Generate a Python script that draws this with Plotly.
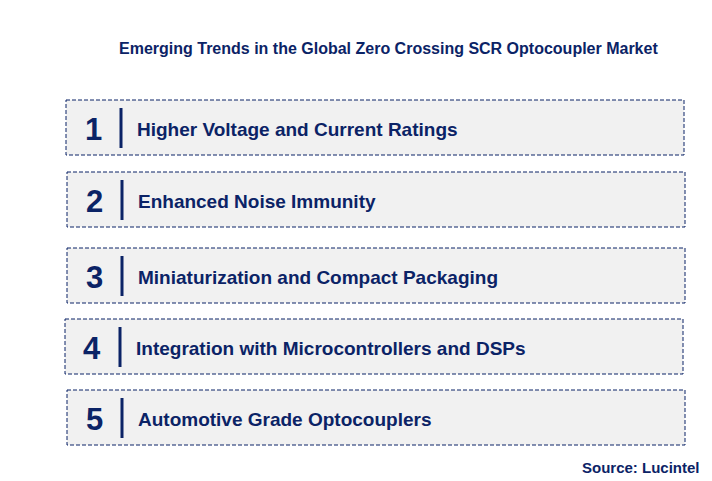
import plotly.graph_objects as go

numbers = ["1", "2", "3", "4", "5"]
trends = ["Higher Voltage and Current Ratings", "Enhanced Noise Immunity",
          "Miniaturization and Compact Packaging",
          "Integration with Microcontrollers and DSPs",
          "Automotive Grade Optocouplers"]
box_top = [100, 172, 248, 319, 390]
box_left = [66, 67, 67, 65, 67]

W, H = 712, 481
O = 8  # page body offset
FW, FH = W - O, H - O
navy = "#0b2366"
fig = go.Figure()
shapes, ann = [], []
for n, t, y0, x0 in zip(numbers, trends, box_top, box_left):
    y0 -= O; x0 -= O
    shapes.append(dict(type="rect", x0=x0, x1=x0 + 618, y0=y0, y1=y0 + 55,
                       fillcolor="#f1f1f1", line=dict(color=navy, width=1, dash="4px,2px"), layer="below"))
    shapes.append(dict(type="line", x0=x0 + 55, x1=x0 + 55, y0=y0 + 8, y1=y0 + 48,
                       line=dict(color=navy, width=3)))
    ann.append(dict(x=x0 + 27, y=y0 + 29, text=f"<b>{n}</b>", showarrow=False,
                    font=dict(family="Arial, Liberation Sans", size=31, color=navy)))
    ann.append(dict(x=x0 + 69, y=y0 + 29, text=f"<b>{t}</b>", showarrow=False, xanchor="left",
                    font=dict(family="Arial, Liberation Sans", size=19, color=navy)))
ann.append(dict(x=388 - O, y=48 - O, text="<b>Emerging Trends in the Global Zero Crossing SCR Optocoupler Market</b>",
                showarrow=False, font=dict(family="Arial, Liberation Sans", size=16, color=navy)))
ann.append(dict(x=702 - O, y=467 - O, text="<b>Source: Lucintel</b>", showarrow=False, xanchor="right",
                font=dict(family="Arial, Liberation Sans", size=15, color=navy)))
fig.update_layout(width=FW, height=FH, margin=dict(l=0, r=0, t=0, b=0),
                  plot_bgcolor="white", paper_bgcolor="white", shapes=shapes, annotations=ann,
                  xaxis=dict(range=[0, FW], visible=False, fixedrange=True),
                  yaxis=dict(range=[FH, 0], visible=False, fixedrange=True), showlegend=False)
fig.write_html("out.html")
